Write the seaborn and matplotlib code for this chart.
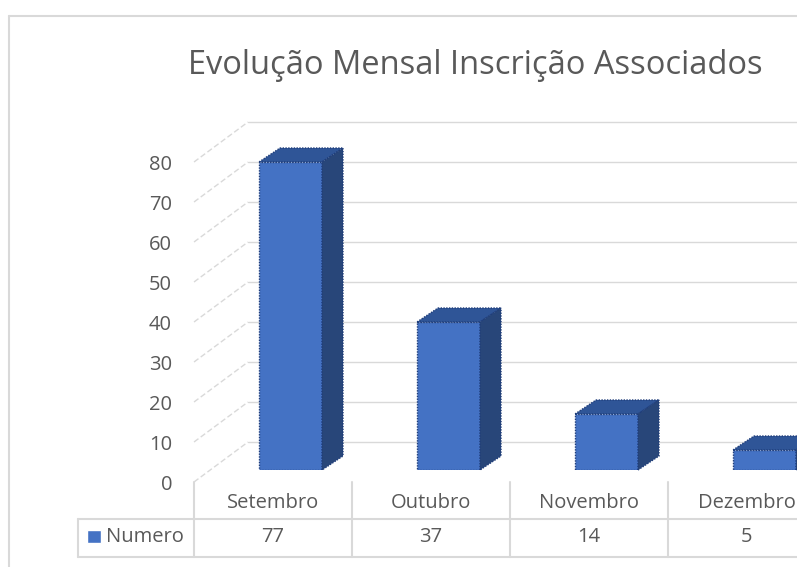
import matplotlib
matplotlib.use('Agg')
import matplotlib.pyplot as plt
from matplotlib.patches import Polygon, Rectangle
from matplotlib.lines import Line2D
from matplotlib.transforms import IdentityTransform, ScaledTranslation
import seaborn as sns
import pandas as pd

# dados do grafico
meses = ['Setembro', 'Outubro', 'Novembro', 'Dezembro']
numeros = [77, 37, 14, 5]
serie = 'Numero'
titulo = 'Evolução Mensal Inscrição Associados'
ticks_y = list(range(0, 81, 10))

sns.set_style('white')
plt.rcParams['font.family'] = ['Open Sans', 'DejaVu Sans']

cinza_txt = '#595959'
cinza_linha = '#d9d9d9'
azul = '#4472C4'
azul_topo = '#2F5597'
azul_lado = '#284679'

W, H = 797, 567
fig = plt.figure(figsize=(W / 100, H / 100), dpi=100)

# eixo do plano frontal das barras (cada categoria = 158 px, 4 px por unidade)
ax = fig.add_axes([211.5 / W, (H - 470) / H, 632 / W, 320 / H])
df = pd.DataFrame({'mes': meses, 'numero': numeros})
sns.barplot(data=df, x='mes', y='numero', color=azul, saturation=1,
            width=63 / 158, ax=ax, zorder=3)
ax.set_xlim(-0.5, 3.5)
ax.set_ylim(0, 80)
ax.set_xlabel('')
ax.set_ylabel('')
ax.set_xticks([])
for s in ax.spines.values():
    s.set_visible(False)
ax.patch.set_alpha(0)

# deslocamentos em px (perspectiva)
FRENTE = (-17.5, -12)
FUNDO = (36.5, 28)
PROF = (21, 14)


def px(x, v, off=(0, 0)):
    p = ax.transData.transform((x, v))
    return p[0] + off[0], p[1] + off[1]


def linha(p0, p1, **kw):
    ax.add_line(Line2D([p0[0], p1[0]], [p0[1], p1[1]], transform=IdentityTransform(),
                       clip_on=False, **kw))


# grade da parede do fundo e linhas diagonais da parede lateral
for v in ticks_y:
    linha(px(-0.5, v, FUNDO), px(4.2, v, FUNDO), color=cinza_linha, lw=1, zorder=0.5)
    linha(px(-0.5, v, FRENTE), px(-0.5, v, FUNDO), color=cinza_linha, lw=1,
          ls=(0, (4, 2)), zorder=0.5)

# rotulos do eixo y no plano frontal
ax.set_yticks(ticks_y)
ax.tick_params(axis='y', length=0, pad=0, labelsize=14.5, labelcolor=cinza_txt)
desl = ScaledTranslation(-39.5 / 100, -12 / 100, fig.dpi_scale_trans)
for lab in ax.get_yticklabels():
    lab.set_transform(lab.get_transform() + desl)

# faces 3D das barras
borda = dict(edgecolor='#1f3d7a', lw=1, ls=(0, (1, 1)))
for bar in ax.patches[:len(numeros)]:
    bar.set_edgecolor('#1f3d7a')
    bar.set_linewidth(1)
    bar.set_linestyle((0, (1, 1)))
    x0 = bar.get_x()
    x1 = x0 + bar.get_width()
    h = bar.get_height()
    topo = [px(x0, h), px(x1, h), px(x1, h, PROF), px(x0, h, PROF)]
    lado = [px(x1, 0), px(x1, h), px(x1, h, PROF), px(x1, 0, PROF)]
    for pts, cor in ((topo, azul_topo), (lado, azul_lado)):
        ax.add_patch(Polygon(pts, closed=True, facecolor=cor, transform=IdentityTransform(),
                             clip_on=False, zorder=3, **borda))

# tabela de dados
esq = px(-0.5, 0, FRENTE)[0] - 116
y_cab = px(0, 0)[1] - 49
y_base = px(0, 0)[1] - 87
linha((esq, y_cab), (W + 50, y_cab), color=cinza_linha, lw=1.5, zorder=1)
linha((esq, y_base), (W + 50, y_base), color=cinza_linha, lw=1.5, zorder=1)
linha((esq, y_cab), (esq, y_base), color=cinza_linha, lw=1.5, zorder=1)
for i in range(len(meses) + 1):
    xl = px(i - 0.5, 0, FRENTE)
    linha(xl, (xl[0], y_base), color=cinza_linha, lw=1.5, zorder=1)

for i, (m, n) in enumerate(zip(meses, numeros)):
    xc = px(i, 0, FRENTE)
    ax.text(xc[0], px(0, 0)[1] - 33, m, transform=IdentityTransform(), ha='center',
            va='center', fontsize=14.5, color=cinza_txt, clip_on=False)
    ax.text(xc[0], px(0, 0)[1] - 67, str(n), transform=IdentityTransform(), ha='center',
            va='center', fontsize=14.5, color=cinza_txt, clip_on=False)

# legenda na tabela
ax.add_patch(Rectangle((esq + 9, px(0, 0)[1] - 73), 14, 13, facecolor=azul,
                       transform=IdentityTransform(), clip_on=False))
ax.text(esq + 28, px(0, 0)[1] - 67, serie, transform=IdentityTransform(), ha='left',
        va='center', fontsize=14.5, color=cinza_txt, clip_on=False)

# titulo
fig.text(475 / W, 1 - 66 / H, titulo, ha='center', va='center', fontsize=23.5,
         color=cinza_txt)

# borda da area do grafico
fig.add_artist(Line2D([9 / W, 9 / W], [0, 1 - 16 / H], color=cinza_linha, lw=1.5))
fig.add_artist(Line2D([9 / W, 1], [1 - 16 / H, 1 - 16 / H], color=cinza_linha, lw=1.5))

plt.savefig('out.png', dpi=100)
